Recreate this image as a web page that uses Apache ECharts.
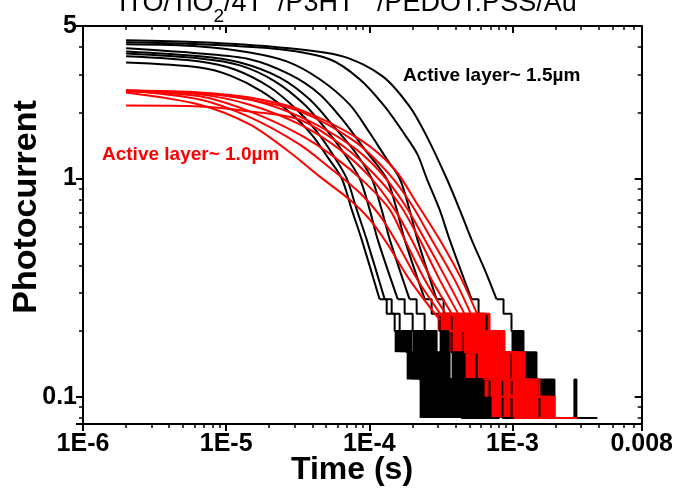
<!DOCTYPE html>
<html>
<head>
<meta charset="utf-8">
<script src="https://cdn.jsdelivr.net/npm/echarts@6.0.0/dist/echarts.min.js"></script>
<style>
html, body { margin: 0; padding: 0; background: #fff; }
#chart { width: 676px; height: 490px; }
</style>
</head>
<body>
<div id="chart"></div>
<script>
// photocurrent transients, log-log, [time (s), photocurrent]
// active layer ~1.5um (black)
const blackCurves = [
	[[2.0e-6, 4.30], [6.55e-6, 4.21], [2.37e-5, 3.99], [6.52e-5, 3.63], [1.24e-4, 2.94], [1.91e-4, 2.14], [2.52e-4, 1.56], [3.47e-4, 1.0], [4.28e-4, 0.72], [5.18e-4, 0.525], [6.39e-4, 0.383], [7.74e-4, 0.28]],
	[[2.0e-6, 4.21], [6.55e-6, 4.12], [2.37e-5, 3.91], [5.29e-5, 3.52], [8.57e-5, 2.85], [1.28e-4, 2.14], [1.77e-4, 1.59], [2.17e-4, 1.29], [2.52e-4, 1.0], [3.10e-4, 0.72], [3.64e-4, 0.525], [5.18e-4, 0.28]],
	[[2.0e-6, 4.12], [6.55e-6, 4.03], [1.46e-5, 3.78], [2.65e-5, 3.44], [4.51e-5, 2.85], [7.30e-5, 2.18], [1.006e-4, 1.62], [1.30e-4, 1.25], [1.63e-4, 1.0], [1.91e-4, 0.72], [2.17e-4, 0.525], [2.95e-4, 0.28]],
	[[2.0e-6, 3.95], [6.55e-6, 3.74], [1.46e-5, 3.52], [2.78e-5, 3.00], [4.51e-5, 2.43], [6.73e-5, 1.81], [9.29e-5, 1.36], [1.32e-4, 1.0], [1.555e-4, 0.72], [1.766e-4, 0.525], [2.44e-4, 0.28]],
	[[2.0e-6, 3.82], [6.55e-6, 3.63], [1.25e-5, 3.40], [2.37e-5, 2.90], [3.84e-5, 2.30], [5.74e-5, 1.71], [7.91e-5, 1.33], [1.039e-4, 1.0], [1.219e-4, 0.72], [1.39e-4, 0.525], [1.91e-4, 0.28]],
	[[2.0e-6, 3.74], [6.55e-6, 3.55], [1.25e-5, 3.30], [2.19e-5, 2.79], [3.54e-5, 2.18], [4.88e-5, 1.71], [6.52e-5, 1.33], [8.57e-5, 1.0], [1.006e-4, 0.72], [1.145e-4, 0.525], [1.58e-4, 0.28]],
	[[2.0e-6, 3.63], [6.55e-6, 3.44], [1.15e-5, 3.16], [2.02e-5, 2.62], [3.11e-5, 2.07], [4.30e-5, 1.64], [5.55e-5, 1.29], [6.96e-5, 1.0], [8.17e-5, 0.72], [9.59e-5, 0.525], [1.28e-4, 0.28]],
	[[2.0e-6, 3.40], [6.55e-6, 3.23], [1.06e-5, 2.97], [1.77e-5, 2.51], [2.78e-5, 2.01], [3.96e-5, 1.59], [5.13e-5, 1.25], [6.42e-5, 1.0], [7.54e-5, 0.72], [8.85e-5, 0.525], [1.18e-4, 0.28]]
];

// quantized tails (step lines)
const blackTails = [
	[[7.742e-4, 0.28], [8.662e-4, 0.24], [9.849e-4, 0.2], [1.194e-3, 0.16], [1.472e-3, 0.12], [1.965e-3, 0.08], [2.709e-3, 0.12], [2.798e-3, 0.08], [3.92e-3, 0.08]],
	[[5.181e-4, 0.28], [5.798e-4, 0.24], [6.593e-4, 0.2], [7.995e-4, 0.16], [9.849e-4, 0.12], [1.544e-3, 0.08], [1.965e-3, 0.08]],
	[[2.953e-4, 0.28], [3.305e-4, 0.24], [3.758e-4, 0.2], [4.557e-4, 0.16], [5.614e-4, 0.12], [9.849e-4, 0.08], [1.214e-3, 0.08]],
	[[2.435e-4, 0.28], [2.725e-4, 0.24], [3.099e-4, 0.2], [3.758e-4, 0.16], [4.631e-4, 0.12], [8.524e-4, 0.08], [1.034e-3, 0.08]],
	[[1.914e-4, 0.28], [2.142e-4, 0.24], [2.435e-4, 0.2], [2.953e-4, 0.16], [3.639e-4, 0.12], [6.918e-4, 0.08], [8.123e-4, 0.08]],
	[[1.579e-4, 0.28], [1.766e-4, 0.24], [2.009e-4, 0.2], [2.435e-4, 0.16], [3.001e-4, 0.12], [5.891e-4, 0.08], [7.144e-4, 0.08]],
	[[1.281e-4, 0.28], [1.433e-4, 0.24], [1.630e-4, 0.2], [1.972e-4, 0.16], [2.435e-4, 0.12], [5.017e-4, 0.08], [6.084e-4, 0.08]],
	[[1.182e-4, 0.28], [1.323e-4, 0.24], [1.504e-4, 0.2], [1.824e-4, 0.16], [2.247e-4, 0.12], [4.413e-4, 0.08], [5.437e-4, 0.08]]
];

// noisy toggling between two levels: [t start, t end, low, high]
const blackBlocks = [
	[9.849e-4, 1.194e-3, 0.16, 0.2], [1.194e-3, 1.472e-3, 0.12, 0.16], [1.472e-3, 1.965e-3, 0.08, 0.12],
	[6.593e-4, 7.995e-4, 0.16, 0.2], [7.995e-4, 9.849e-4, 0.12, 0.16], [9.849e-4, 1.544e-3, 0.08, 0.12],
	[3.758e-4, 4.557e-4, 0.16, 0.2], [4.557e-4, 5.614e-4, 0.12, 0.16], [5.614e-4, 9.849e-4, 0.08, 0.12],
	[3.099e-4, 3.758e-4, 0.16, 0.2], [3.758e-4, 4.631e-4, 0.12, 0.16], [4.631e-4, 8.524e-4, 0.08, 0.12],
	[2.435e-4, 2.953e-4, 0.16, 0.2], [2.953e-4, 3.639e-4, 0.12, 0.16], [3.639e-4, 6.918e-4, 0.08, 0.12],
	[2.009e-4, 2.435e-4, 0.16, 0.2], [2.435e-4, 3.001e-4, 0.12, 0.16], [3.001e-4, 5.891e-4, 0.08, 0.12],
	[1.630e-4, 1.972e-4, 0.16, 0.2], [1.972e-4, 2.435e-4, 0.12, 0.16], [2.435e-4, 5.017e-4, 0.08, 0.12],
	[1.504e-4, 1.824e-4, 0.16, 0.2], [1.824e-4, 2.247e-4, 0.12, 0.16], [2.247e-4, 4.413e-4, 0.08, 0.12]
];

// active layer ~1.0um (red)
const redCurves = [
	[[2.0e-6, 2.48], [6.55e-6, 2.18], [1.46e-5, 1.77], [2.78e-5, 1.32], [4.51e-5, 1.02], [7.30e-5, 0.80], [1.006e-4, 0.65], [1.342e-4, 0.50], [1.91e-4, 0.344], [3.099e-4, 0.225]],
	[[2.0e-6, 2.53], [6.55e-6, 2.30], [1.46e-5, 1.91], [3.27e-5, 1.43], [5.29e-5, 1.12], [8.57e-5, 0.86], [1.18e-4, 0.68], [1.58e-4, 0.50], [2.17e-4, 0.344], [3.358e-4, 0.225]],
	[[2.0e-6, 2.51], [6.55e-6, 2.38], [1.46e-5, 2.03], [3.27e-5, 1.59], [5.74e-5, 1.25], [9.29e-5, 0.96], [1.39e-4, 0.72], [1.766e-4, 0.525], [2.44e-4, 0.344], [3.639e-4, 0.225]],
	[[2.0e-6, 2.53], [6.55e-6, 2.43], [1.46e-5, 2.18], [3.27e-5, 1.77], [6.21e-5, 1.36], [1.006e-4, 1.02], [1.505e-4, 0.72], [1.972e-4, 0.525], [2.725e-4, 0.344], [4.009e-4, 0.225]],
	[[2.0e-6, 2.16], [6.55e-6, 2.14], [1.46e-5, 2.03], [3.27e-5, 1.86], [6.73e-5, 1.39], [1.09e-4, 1.04], [1.63e-4, 0.76], [2.247e-4, 0.525], [3.099e-4, 0.344], [4.413e-4, 0.225]],
	[[2.0e-6, 2.53], [6.55e-6, 2.46], [1.46e-5, 2.30], [3.27e-5, 1.92], [7.30e-5, 1.43], [1.18e-4, 1.08], [1.766e-4, 0.76], [2.44e-4, 0.525], [3.47e-4, 0.344], [4.86e-4, 0.225]],
	[[2.0e-6, 2.51], [6.55e-6, 2.46], [1.46e-5, 2.30], [3.27e-5, 2.03], [7.91e-5, 1.48], [1.39e-4, 1.04], [1.972e-4, 0.76], [2.725e-4, 0.525], [3.944e-4, 0.344], [5.35e-4, 0.225]],
	[[2.0e-6, 2.53], [6.55e-6, 2.48], [1.46e-5, 2.35], [3.27e-5, 2.07], [8.57e-5, 1.51], [1.505e-4, 1.10], [2.172e-4, 0.76], [3.099e-4, 0.525], [4.42e-4, 0.344], [5.891e-4, 0.225]]
];

// red tails: step times per curve, shared levels
const redStepLevels = [0.24, 0.2, 0.16, 0.12, 0.1, 0.08, 0.08];
const redStepTimes = [
	[3.001e-4, 3.639e-4, 4.631e-4, 6.384e-4, 8.123e-4, 1.034e-3, 1.425e-3],
	[3.252e-4, 3.944e-4, 5.017e-4, 6.918e-4, 8.803e-4, 1.120e-3, 1.544e-3],
	[3.526e-4, 4.273e-4, 5.437e-4, 7.497e-4, 9.537e-4, 1.214e-3, 1.673e-3],
	[3.882e-4, 4.706e-4, 5.986e-4, 8.255e-4, 1.050e-3, 1.336e-3, 1.842e-3],
	[4.273e-4, 5.181e-4, 6.593e-4, 9.090e-4, 1.157e-3, 1.472e-3, 2.03e-3],
	[4.706e-4, 5.710e-4, 7.260e-4, 1.001e-3, 1.274e-3, 1.620e-3, 2.234e-3],
	[5.181e-4, 6.282e-4, 7.995e-4, 1.102e-3, 1.408e-3, 1.784e-3, 2.46e-3],
	[5.710e-4, 6.918e-4, 8.803e-4, 1.214e-3, 1.544e-3, 1.965e-3, 2.843e-3]
];
const redBlocks = [
	[3.001e-4, 3.639e-4, 0.2, 0.24], [3.639e-4, 4.631e-4, 0.16, 0.2], [4.631e-4, 6.384e-4, 0.12, 0.16], [6.384e-4, 8.123e-4, 0.1, 0.12], [7.144e-4, 1.034e-3, 0.08, 0.1],
	[3.252e-4, 3.944e-4, 0.2, 0.24], [3.944e-4, 5.017e-4, 0.16, 0.2], [5.017e-4, 6.918e-4, 0.12, 0.16], [6.918e-4, 8.803e-4, 0.1, 0.12], [7.742e-4, 1.120e-3, 0.08, 0.1],
	[3.526e-4, 4.273e-4, 0.2, 0.24], [4.273e-4, 5.437e-4, 0.16, 0.2], [5.437e-4, 7.497e-4, 0.12, 0.16], [7.497e-4, 9.537e-4, 0.1, 0.12], [8.389e-4, 1.214e-3, 0.08, 0.1],
	[3.882e-4, 4.706e-4, 0.2, 0.24], [4.706e-4, 5.986e-4, 0.16, 0.2], [5.986e-4, 8.255e-4, 0.12, 0.16], [8.255e-4, 1.050e-3, 0.1, 0.12], [9.238e-4, 1.336e-3, 0.08, 0.1],
	[4.273e-4, 5.181e-4, 0.2, 0.24], [5.181e-4, 6.593e-4, 0.16, 0.2], [6.593e-4, 9.090e-4, 0.12, 0.16], [9.090e-4, 1.157e-3, 0.1, 0.12], [1.017e-3, 1.472e-3, 0.08, 0.1],
	[4.706e-4, 5.710e-4, 0.2, 0.24], [5.710e-4, 7.260e-4, 0.16, 0.2], [7.260e-4, 1.001e-3, 0.12, 0.16], [1.001e-3, 1.274e-3, 0.1, 0.12], [1.120e-3, 1.620e-3, 0.08, 0.1],
	[5.181e-4, 6.282e-4, 0.2, 0.24], [6.282e-4, 7.995e-4, 0.16, 0.2], [7.995e-4, 1.102e-3, 0.12, 0.16], [1.102e-3, 1.408e-3, 0.1, 0.12], [1.234e-3, 1.784e-3, 0.08, 0.1],
	[5.710e-4, 6.918e-4, 0.2, 0.24], [6.918e-4, 8.803e-4, 0.16, 0.2], [8.803e-4, 1.214e-3, 0.12, 0.16], [1.214e-3, 1.544e-3, 0.1, 0.12], [1.358e-3, 1.965e-3, 0.08, 0.1]
];

const xMin = 1e-6, xMax = 0.008;
const yMin = 0.075, yMax = 5;
const yLabels = [0.1, 1, 5];

const FONT = "'Liberation Sans', Arial, sans-serif";

const fmtX = v => {
	const e = Math.round(Math.log10(v));
	if (Math.abs(v / Math.pow(10, e) - 1) < 1e-6) return "1E" + e;
	return String(+v.toPrecision(3));
};
const fmtY = v => {
	const hit = yLabels.find(l => Math.abs(v / l - 1) < 1e-3);
	return hit === undefined ? "" : String(hit);
};

const lineSeries = (data, color, step) => ({
	type: "line",
	data: data,
	step: step ? "end" : false,
	smooth: step ? false : 0.3,
	showSymbol: false,
	symbol: "none",
	silent: true,
	lineStyle: { color: color, width: 2 },
	xAxisIndex: 0,
	yAxisIndex: 0
});

// filled rectangles for the noisy part, placed through the axes
const blockSeries = (data, color) => ({
	type: "custom",
	data: data,
	silent: true,
	clip: true,
	encode: { x: [0, 1], y: [2, 3] },
	renderItem: (params, api) => {
		const a = api.coord([api.value(0), api.value(3)]);
		const b = api.coord([api.value(1), api.value(2)]);
		return {
			type: "rect",
			shape: { x: a[0], y: a[1], width: b[0] - a[0], height: b[1] - a[1] },
			style: { fill: color }
		};
	}
});

const series = [];
blackCurves.forEach(c => series.push(lineSeries(c, "#000", false)));
blackTails.forEach(c => series.push(lineSeries(c, "#000", true)));
series.push(blockSeries(blackBlocks, "#000"));
redCurves.forEach(c => series.push(lineSeries(c, "#ff0000", false)));
redStepTimes.forEach(ts => series.push(lineSeries(ts.map((t, i) => [t, redStepLevels[i]]), "#ff0000", true)));
series.push(blockSeries(redBlocks, "#ff0000"));

const axisBase = (min, max) => ({
	type: "log",
	logBase: 10,
	min: min,
	max: max,
	axisLine: { show: true, lineStyle: { color: "#000", width: 2 } },
	axisTick: { show: true, length: 7, lineStyle: { color: "#000", width: 2 } },
	minorTick: { show: true, splitNumber: 9, length: 4, lineStyle: { color: "#000", width: 1.5 } },
	splitLine: { show: false },
	minorSplitLine: { show: false }
});

const myChart = echarts.init(document.getElementById("chart"), null, { renderer: "canvas" });
myChart.setOption({
	animation: false,
	backgroundColor: "#fff",
	title: {
		text: "{a|ITO/TiO}{s|2}{a|/4T  /P3HT   /PEDOT:PSS/Au}",
		left: 119,
		top: -10,
		padding: 0,
		textStyle: {
			fontFamily: FONT,
			fontWeight: "normal",
			color: "#000",
			rich: {
				a: { fontFamily: FONT, fontWeight: "normal", fontSize: 27, color: "#000", padding: [0, 0, 9, 0], verticalAlign: "bottom" },
				s: { fontFamily: FONT, fontWeight: "normal", fontSize: 19, color: "#000", verticalAlign: "bottom" }
			}
		}
	},
	grid: { left: 83, right: 30, top: 26, bottom: 66, containLabel: false },
	xAxis: [
		Object.assign(axisBase(xMin, xMax), {
			position: "bottom",
			axisLabel: { formatter: fmtX, margin: 8, fontFamily: FONT, fontWeight: "bold", fontSize: 25, color: "#000" }
		}),
		Object.assign(axisBase(xMin, xMax), {
			position: "top",
			axisTick: { show: true, inside: true, length: 7, lineStyle: { color: "#000", width: 2 } },
			axisLabel: { show: false }
		})
	],
	yAxis: [
		Object.assign(axisBase(yMin, yMax), {
			position: "left",
			axisLabel: { formatter: fmtY, margin: 6, fontFamily: FONT, fontWeight: "bold", fontSize: 25, color: "#000" }
		}),
		Object.assign(axisBase(yMin, yMax), {
			position: "right",
			axisTick: { show: true, inside: true, length: 7, lineStyle: { color: "#000", width: 2 } },
			axisLabel: { show: false }
		})
	],
	graphic: [
		{
			type: "text",
			left: 403,
			top: 66,
			style: { text: "Active layer~ 1.5µm", font: "bold 19px " + FONT, fill: "#000" }
		},
		{
			type: "text",
			left: 102,
			top: 145,
			style: { text: "Active layer~ 1.0µm", font: "bold 19px " + FONT, fill: "#ff0000" }
		},
		{
			type: "text",
			x: 352,
			y: 470,
			style: { text: "Time (s)", font: "bold 32px " + FONT, fill: "#000", align: "center", verticalAlign: "middle" }
		},
		{
			type: "text",
			x: 27,
			y: 207,
			rotation: Math.PI / 2,
			style: { text: "Photocurrent", font: "bold 34px " + FONT, fill: "#000", align: "center", verticalAlign: "middle" }
		}
	],
	series: series
});
</script>
</body>
</html>
